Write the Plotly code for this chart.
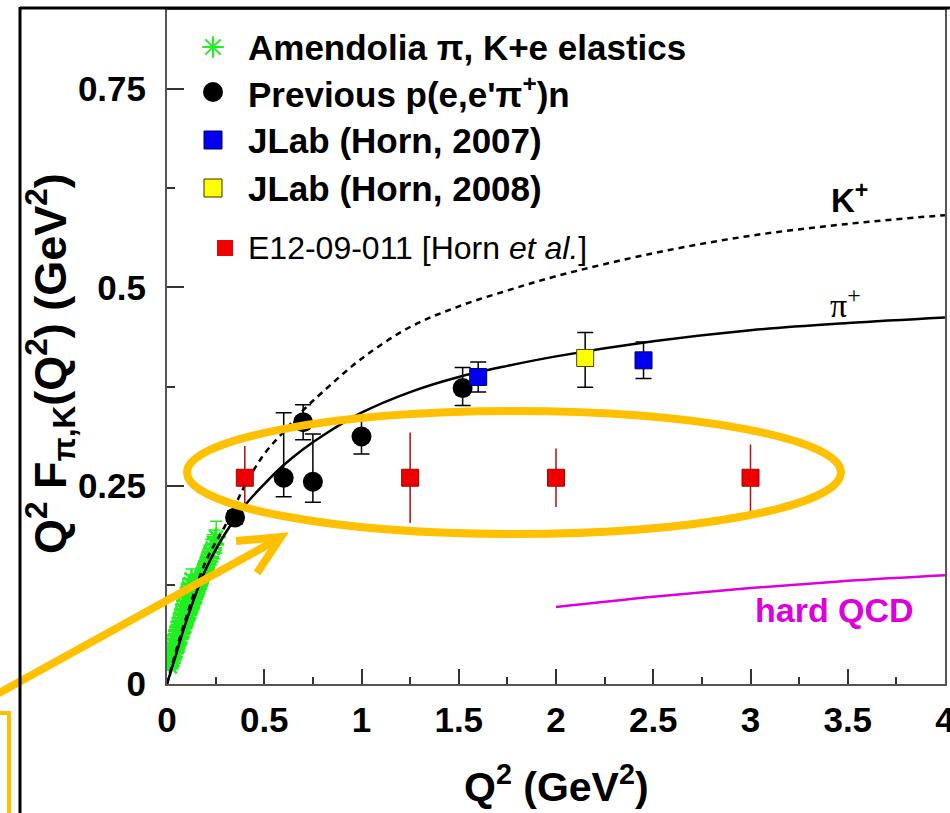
import plotly.graph_objects as go

# ---------------- data ----------------
# Amendolia pi / K + e elastic data (Q^2 in GeV^2, Q^2 F in GeV^2)
amend_pi_q2 = [0.016, 0.022, 0.027, 0.032, 0.037, 0.042, 0.047, 0.052, 0.057, 0.062,
               0.067, 0.072, 0.077, 0.082, 0.087, 0.092, 0.097, 0.102, 0.107, 0.112,
               0.117, 0.122, 0.127, 0.132, 0.137, 0.142, 0.147, 0.152, 0.157, 0.162,
               0.167, 0.172, 0.178, 0.184, 0.190, 0.196, 0.203, 0.210, 0.218, 0.226,
               0.235, 0.244, 0.253]
amend_pi_f = [0.022, 0.027, 0.031, 0.034, 0.039, 0.041, 0.046, 0.049, 0.052, 0.057,
              0.059, 0.064, 0.066, 0.070, 0.073, 0.078, 0.080, 0.083, 0.088, 0.090,
              0.094, 0.097, 0.101, 0.103, 0.108, 0.110, 0.114, 0.118, 0.120, 0.125,
              0.127, 0.131, 0.134, 0.139, 0.142, 0.146, 0.151, 0.155, 0.160, 0.166,
              0.171, 0.176, 0.185]
amend_pi_err = [0.004, 0.004, 0.004, 0.004, 0.004, 0.005, 0.005, 0.005, 0.005, 0.005,
                0.005, 0.005, 0.006, 0.006, 0.006, 0.006, 0.006, 0.006, 0.007, 0.007,
                0.007, 0.007, 0.007, 0.008, 0.008, 0.008, 0.008, 0.009, 0.009, 0.009,
                0.010, 0.010, 0.011, 0.011, 0.012, 0.012, 0.013, 0.014, 0.015, 0.016,
                0.017, 0.018, 0.020]
amend_k_q2 = [0.012, 0.018, 0.024, 0.030, 0.036, 0.042, 0.048, 0.054, 0.060, 0.066,
              0.072, 0.078, 0.084, 0.090, 0.096, 0.102, 0.108, 0.114, 0.120, 0.126]
amend_k_f = [0.028, 0.033, 0.039, 0.045, 0.050, 0.056, 0.061, 0.067, 0.072, 0.078,
             0.083, 0.089, 0.094, 0.100, 0.105, 0.110, 0.116, 0.121, 0.126, 0.132]
amend_k_err = [0.006, 0.006, 0.006, 0.007, 0.007, 0.007, 0.008, 0.008, 0.008, 0.009,
               0.009, 0.009, 0.010, 0.010, 0.010, 0.011, 0.011, 0.012, 0.012, 0.013]

# Previous p(e,e'pi+)n
prev_q2 = [0.35, 0.60, 0.70, 0.75, 1.00, 1.52]
prev_f = [0.210, 0.260, 0.330, 0.255, 0.312, 0.373]
prev_err_up = [0.008, 0.082, 0.022, 0.060, 0.022, 0.026]
prev_err_dn = [0.008, 0.024, 0.022, 0.026, 0.022, 0.022]

# JLab (Horn, 2007)
horn07_q2 = [1.60, 2.45]
horn07_f = [0.387, 0.408]
horn07_err = [0.019, 0.023]

# JLab (Horn, 2008)
horn08_q2 = [2.15]
horn08_f = [0.411]
horn08_err_up = [0.032]
horn08_err_dn = [0.037]

# E12-09-011 projected points
e12_q2 = [0.40, 1.25, 2.00, 3.00]
e12_f = [0.26, 0.26, 0.26, 0.26]
e12_err = [0.040, 0.057, 0.037, 0.042]

# model curves
pi_curve_q2 = [0.0, 0.05, 0.10, 0.20, 0.30, 0.40, 0.50, 0.60, 0.70, 0.80, 1.00,
               1.25, 1.50, 1.75, 2.00, 2.50, 3.00, 3.50, 4.00]
pi_curve_f = [0.0, 0.040, 0.080, 0.145, 0.190, 0.225, 0.252, 0.276, 0.296, 0.313, 0.342,
              0.368, 0.387, 0.401, 0.413, 0.432, 0.446, 0.455, 0.462]
k_curve_q2 = [0.0, 0.05, 0.10, 0.20, 0.30, 0.35, 0.40, 0.50, 0.60, 0.70, 0.80, 1.00,
              1.25, 1.50, 1.75, 2.00, 2.50, 3.00, 3.50, 4.00]
k_curve_f = [0.0, 0.045, 0.085, 0.155, 0.200, 0.225, 0.250, 0.290, 0.318, 0.345, 0.368,
             0.410, 0.450, 0.476, 0.496, 0.514, 0.543, 0.565, 0.580, 0.591]
qcd_q2 = [2.0, 2.5, 3.0, 3.5, 4.0]
qcd_f = [0.097, 0.110, 0.121, 0.130, 0.137]

# x and y tick values
x_ticks = [0, 0.5, 1, 1.5, 2, 2.5, 3, 3.5, 4]
x_tick_text = ["0", "0.5", "1", "1.5", "2", "2.5", "3", "3.5", "4"]
y_ticks = [0, 0.25, 0.5, 0.75]
y_tick_text = ["0", "0.25", "0.5", "0.75"]

# ---------------- styling ----------------
W, H = 950, 813
ML, MR, MT, MB = 167, 5, 10, 129
PW, PH = W - ML - MR, H - MT - MB
FONT = "Liberation Sans"
ORANGE = "#FFC000"
GREEN = "#22ee22"


def px_x(px):
    """pixel column -> paper x"""
    return (px - ML) / PW


def px_y(py):
    """pixel row -> paper y"""
    return (H - MB - py) / PH


fig = go.Figure()

# Amendolia elastic data
for q2, f, err in [(amend_k_q2, amend_k_f, amend_k_err), (amend_pi_q2, amend_pi_f, amend_pi_err)]:
    fig.add_trace(go.Scatter(
        x=q2, y=f, mode="markers",
        error_y=dict(type="data", array=err, color=GREEN, thickness=1.5, width=6),
        marker=dict(symbol="asterisk-open", size=16, color=GREEN, line=dict(color=GREEN, width=2.5)),
        showlegend=False))

# model curves
fig.add_trace(go.Scatter(x=k_curve_q2, y=k_curve_f, mode="lines", line_shape="spline",
                         line=dict(color="black", width=2.5, dash="6px,5px"), showlegend=False))
fig.add_trace(go.Scatter(x=pi_curve_q2, y=pi_curve_f, mode="lines", line_shape="spline",
                         line=dict(color="black", width=2.5), showlegend=False))
fig.add_trace(go.Scatter(x=qcd_q2, y=qcd_f, mode="lines", line_shape="spline",
                         line=dict(color="#dd00dd", width=2.5), showlegend=False))

# previous data
fig.add_trace(go.Scatter(
    x=prev_q2, y=prev_f, mode="markers",
    error_y=dict(type="data", symmetric=False, array=prev_err_up, arrayminus=prev_err_dn,
                 color="black", thickness=1.5, width=8),
    marker=dict(symbol="circle", size=20, color="black"), showlegend=False))

# JLab Horn 2007 / 2008
fig.add_trace(go.Scatter(
    x=horn07_q2, y=horn07_f, mode="markers",
    error_y=dict(type="data", array=horn07_err, color="black", thickness=1.5, width=8),
    marker=dict(symbol="square", size=17, color="#0000ee", line=dict(color="#000066", width=1)),
    showlegend=False))
fig.add_trace(go.Scatter(
    x=horn08_q2, y=horn08_f, mode="markers",
    error_y=dict(type="data", symmetric=False, array=horn08_err_up, arrayminus=horn08_err_dn,
                 color="black", thickness=1.5, width=8),
    marker=dict(symbol="square", size=17, color="#ffff00", line=dict(color="#444400", width=1)),
    showlegend=False))

# E12-09-011 projection
fig.add_trace(go.Scatter(
    x=e12_q2, y=e12_f, mode="markers",
    error_y=dict(type="data", array=e12_err, color="#aa1010", thickness=1.5, width=0),
    marker=dict(symbol="square", size=17, color="#ee0000", line=dict(color="#aa0000", width=1)),
    showlegend=False))

# ---------------- legend (pixel-space overlay axes) ----------------
leg_rows = [47, 92, 140, 188, 248]
leg_x = 213
fig.add_trace(go.Scatter(x=[leg_x], y=[leg_rows[0]], xaxis="x2", yaxis="y2", mode="markers",
                         marker=dict(symbol="asterisk-open", size=18, color=GREEN,
                                     line=dict(color=GREEN, width=2)), showlegend=False))
fig.add_trace(go.Scatter(x=[leg_x], y=[leg_rows[1]], xaxis="x2", yaxis="y2", mode="markers",
                         marker=dict(symbol="circle", size=20, color="black"), showlegend=False))
fig.add_trace(go.Scatter(x=[leg_x], y=[leg_rows[2]], xaxis="x2", yaxis="y2", mode="markers",
                         marker=dict(symbol="square", size=18, color="#0000ee",
                                     line=dict(color="#000066", width=1)), showlegend=False))
fig.add_trace(go.Scatter(x=[leg_x], y=[leg_rows[3]], xaxis="x2", yaxis="y2", mode="markers",
                         marker=dict(symbol="square", size=18, color="#ffff00",
                                     line=dict(color="#333300", width=1)), showlegend=False))
fig.add_trace(go.Scatter(x=[leg_x + 12], y=[leg_rows[4]], xaxis="x2", yaxis="y2", mode="markers",
                         marker=dict(symbol="square", size=16, color="#ee0000"), showlegend=False))

leg_labels = ["Amendolia π, K+e elastics", "Previous p(e,e'π<sup>+</sup>)n",
              "JLab (Horn, 2007)", "JLab (Horn, 2008)"]
annotations = []
for lbl, row in zip(leg_labels, leg_rows[:4]):
    annotations.append(dict(xref="x2", yref="y2", x=246, y=row, text=lbl, showarrow=False,
                            xanchor="left", yanchor="middle",
                            font=dict(family=FONT, size=35, color="black", weight="bold")))
annotations.append(dict(xref="x2", yref="y2", x=246, y=leg_rows[4],
                        text="E12-09-011 [Horn <i>et al.</i>]", showarrow=False,
                        xanchor="left", yanchor="middle",
                        font=dict(family=FONT, size=32, color="black")))

# curve labels
annotations += [
    dict(x=3.51, y=0.613, text="K<sup>+</sup>", showarrow=False,
         font=dict(family=FONT, size=33, color="black", weight="bold")),
    dict(x=3.49, y=0.48, text="π<sup>+</sup>", showarrow=False,
         font=dict(family="Liberation Serif", size=34, color="black")),
    dict(x=3.43, y=0.093, text="hard QCD", showarrow=False,
         font=dict(family=FONT, size=34, color="#dd00dd", weight="bold")),
]

# axis titles
annotations += [
    dict(xref="paper", yref="paper", x=px_x(556), y=px_y(784),
         text="Q<sup>2</sup> (GeV<sup>2</sup>)", showarrow=False,
         xanchor="center", yanchor="middle",
         font=dict(family=FONT, size=41, color="black", weight="bold")),
    dict(xref="paper", yref="paper", x=px_x(50), y=px_y(364),
         text="Q<sup>2</sup> F<sub>π,K</sub>(Q<sup>2</sup>) (GeV<sup>2</sup>)", showarrow=False,
         textangle=-90, xanchor="center", yanchor="middle",
         font=dict(family=FONT, size=45, color="black", weight="bold")),
]

# ---------------- highlight shapes ----------------
shapes = [
    # highlight ellipse around the projected points
    dict(type="circle", xref="x", yref="y", x0=0.103, x1=3.465, y0=0.189, y1=0.344,
         line=dict(color=ORANGE, width=8), layer="above"),
    # pointer arrow
    dict(type="path", xref="paper", yref="paper",
         path=f"M {px_x(-10)},{px_y(698)} L {px_x(280)},{px_y(538)}",
         line=dict(color=ORANGE, width=8), layer="above"),
    dict(type="path", xref="paper", yref="paper",
         path=f"M {px_x(236)},{px_y(541)} L {px_x(281)},{px_y(537)} L {px_x(257)},{px_y(573)}",
         line=dict(color=ORANGE, width=8), layer="above"),
    # partial box at lower left
    dict(type="rect", xref="paper", yref="paper", x0=px_x(-40), x1=px_x(9), y0=px_y(713), y1=px_y(840),
         line=dict(color=ORANGE, width=4)),
    # slide frame lines
    dict(type="line", xref="paper", yref="paper", x0=px_x(20), x1=px_x(960), y0=px_y(8), y1=px_y(8),
         line=dict(color="black", width=3)),
    dict(type="line", xref="paper", yref="paper", x0=px_x(20), x1=px_x(20), y0=px_y(7), y1=px_y(830),
         line=dict(color="black", width=3)),
]

axis_common = dict(showline=True, linecolor="#555555", linewidth=2, mirror=True,
                   showgrid=False, zeroline=False, ticks="inside", tickcolor="#333333",
                   tickwidth=1.5, ticklabeloverflow="allow", automargin=False,
                   tickfont=dict(family=FONT, size=35, color="black", weight="bold"))

fig.update_layout(
    width=W, height=H,
    margin=dict(l=ML, r=MR, t=MT, b=MB, autoexpand=False),
    paper_bgcolor="white", plot_bgcolor="white",
    xaxis=dict(range=[0, 4], tickvals=x_ticks, ticktext=x_tick_text, ticklen=15,
               minor=dict(dtick=0.25, ticks="inside", ticklen=7, tickcolor="#333333", tickwidth=1.5),
               ticklabelstandoff=4, **axis_common),
    yaxis=dict(range=[0, 0.8496], tickvals=y_ticks, ticktext=y_tick_text, ticklen=17,
               minor=dict(dtick=0.125, ticks="inside", ticklen=8, tickcolor="#333333", tickwidth=1.5),
               ticklabelstandoff=12, **axis_common),
    xaxis2=dict(overlaying="x", range=[ML, W - MR], visible=False, automargin=False),
    yaxis2=dict(overlaying="y", range=[H - MB, MT], visible=False, automargin=False),
    annotations=annotations,
    shapes=shapes,
    showlegend=False,
)

fig.write_html("out.html")
